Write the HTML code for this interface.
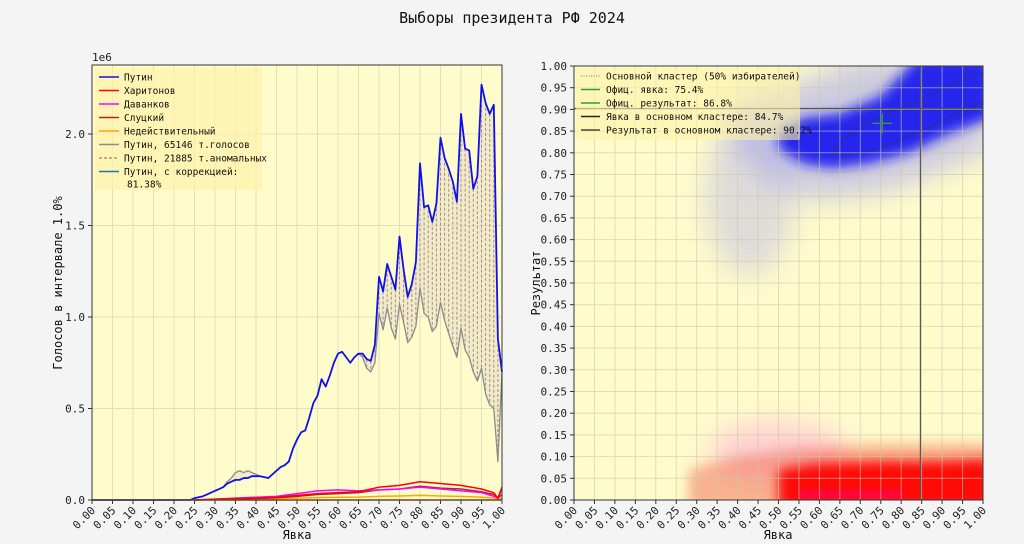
<!DOCTYPE html>
<html><head><meta charset="utf-8"><style>
body{margin:0;background:#f4f4f4;}
svg{display:block;font-family:"DejaVu Sans Mono","Liberation Mono",monospace;}
</style></head><body>
<svg id="root" width="1024" height="544" viewBox="0 0 1024 544">
<defs>
<filter id="blur6" filterUnits="userSpaceOnUse" x="0" y="0" width="1024" height="544"><feGaussianBlur stdDeviation="6"/></filter>
<filter id="blur12" filterUnits="userSpaceOnUse" x="0" y="0" width="1024" height="544"><feGaussianBlur stdDeviation="14"/></filter>
<filter id="blur3" filterUnits="userSpaceOnUse" x="0" y="0" width="1024" height="544"><feGaussianBlur stdDeviation="3"/></filter>
</defs>
<rect width="1024" height="544" fill="#f4f4f4"/>
<text x="512" y="23" text-anchor="middle" font-size="15" fill="#111">Выборы президента РФ 2024</text>
<g id="left"></g>
<g id="right"></g>
</svg>
<script>
// ---- left chart data (millions of votes per 1% turnout bin, index = turnout %) ----
const putinVotes = [0,0,0,0,0,0,0,0,0,0,0,0,0,0,0,0,0,0,0,0,0,0,0,0,0,
0.01,0.015,0.02,0.03,0.04, 0.05,0.06,0.07,0.09,0.10, 0.11,0.11,0.12,0.12,0.13,
0.13,0.13,0.125,0.12,0.14, 0.16,0.18,0.19,0.21,0.28, 0.33,0.37,0.38,0.45,0.53,
0.57,0.66,0.62,0.68,0.75, 0.80,0.81,0.78,0.75,0.78, 0.80,0.80,0.77,0.76,0.85,
1.22,1.14,1.29,1.22,1.15, 1.44,1.26,1.11,1.18,1.30, 1.84,1.60,1.61,1.52,1.62,
1.98,1.87,1.81,1.74,1.63, 2.11,1.92,1.91,1.70,1.77, 2.27,2.17,2.11,2.16,0.88, 0.70];
const putinNormal = [0,0,0,0,0,0,0,0,0,0,0,0,0,0,0,0,0,0,0,0,0,0,0,0,0,
0.01,0.015,0.02,0.03,0.04, 0.05,0.06,0.07,0.10,0.12, 0.15,0.16,0.15,0.16,0.15,
0.14,0.13,0.125,0.12,0.14, 0.16,0.18,0.19,0.21,0.28, 0.33,0.37,0.38,0.45,0.53,
0.57,0.66,0.62,0.68,0.75, 0.80,0.81,0.78,0.75,0.78, 0.80,0.78,0.72,0.70,0.75,
1.02,0.93,1.05,0.94,0.88, 1.07,0.97,0.86,0.89,0.95, 1.16,1.02,1.00,0.92,0.95,
1.08,0.98,0.91,0.84,0.78, 0.94,0.82,0.78,0.70,0.65, 0.72,0.58,0.52,0.50,0.21, 0.70];
const smallTurnout = [0.25,0.30,0.35,0.40,0.45,0.50,0.55,0.60,0.65,0.70,0.75,0.80,0.85,0.90,0.95,0.98,0.99,1.00];
const kharitonovVotes = [0,0.004,0.008,0.01,0.015,0.025,0.035,0.04,0.045,0.07,0.08,0.10,0.09,0.08,0.06,0.04,0.01,0.07];
const davankovVotes = [0,0.005,0.01,0.015,0.02,0.035,0.05,0.055,0.05,0.055,0.06,0.07,0.06,0.05,0.04,0.02,0.01,0.06];
const slutskyVotes = [0,0.003,0.006,0.008,0.012,0.02,0.03,0.035,0.04,0.055,0.06,0.075,0.065,0.06,0.045,0.03,0.01,0.03];
const invalidVotes = [0,0.002,0.004,0.005,0.007,0.01,0.013,0.015,0.016,0.02,0.022,0.025,0.022,0.02,0.015,0.01,0.005,0.01];
const leftYTicks = [0,0.5,1.0,1.5,2.0];
const leftYTickLabels = ["0.0","0.5","1.0","1.5","2.0"];
const xTickValues = [0,0.05,0.1,0.15,0.2,0.25,0.3,0.35,0.4,0.45,0.5,0.55,0.6,0.65,0.7,0.75,0.8,0.85,0.9,0.95,1.0];
const xTickLabels = ["0.00","0.05","0.10","0.15","0.20","0.25","0.30","0.35","0.40","0.45","0.50","0.55","0.60","0.65","0.70","0.75","0.80","0.85","0.90","0.95","1.00"];
const leftLegendLabels = ["Путин","Харитонов","Даванков","Слуцкий","Недействительный","Путин, 65146 т.голосов","Путин, 21885 т.аномальных","Путин, с коррекцией:"];
// ---- right chart data ----
const officialTurnout = 0.754, officialResult = 0.868;
const clusterTurnout = 0.847, clusterResult = 0.902;
const rightYTicks = [0,0.05,0.1,0.15,0.2,0.25,0.3,0.35,0.4,0.45,0.5,0.55,0.6,0.65,0.7,0.75,0.8,0.85,0.9,0.95,1.0];
const rightYTickLabels = ["0.00","0.05","0.10","0.15","0.20","0.25","0.30","0.35","0.40","0.45","0.50","0.55","0.60","0.65","0.70","0.75","0.80","0.85","0.90","0.95","1.00"];
const blueCoreT = [0.50,0.56,0.65,0.75,0.84,1.02,1.02,0.92,0.82,0.72,0.63,0.56,0.50];
const blueCoreR = [0.85,0.88,0.89,0.93,1.02,1.02,0.88,0.845,0.80,0.775,0.765,0.775,0.81];
const blueHaloT = [0.38,0.50,0.60,0.70,0.80,1.02,1.02,0.90,0.80,0.70,0.60,0.50,0.40];
const blueHaloR = [0.92,0.95,0.98,1.02,1.02,1.02,0.80,0.76,0.72,0.70,0.69,0.72,0.80];
const redCoreT = [0.50,0.60,0.75,0.90,1.02,1.02,0.50];
const redCoreR = [0.07,0.085,0.09,0.09,0.095,-0.02,-0.02];
const redHaloT = [0.28,0.40,0.55,0.75,0.90,1.02,1.02,0.28];
const redHaloR = [0.07,0.10,0.12,0.13,0.13,0.13,-0.02,-0.02];
const clusterTopT = [0.63,0.68,0.74,0.80,0.86,0.92,0.97,1.0];
const clusterTopR = [0.80,0.85,0.88,0.905,0.93,0.955,0.975,0.985];
const clusterBotT = [1.0,0.95,0.88,0.82,0.76,0.70,0.66,0.63];
const clusterBotR = [0.92,0.895,0.865,0.84,0.815,0.80,0.795,0.80];
const rightLegendLabels = ["Основной кластер (50% избирателей)","Офиц. явка: 75.4%","Офиц. результат: 86.8%","Явка в основном кластере: 84.7%","Результат в основном кластере: 90.2%"];

const NS="http://www.w3.org/2000/svg";
function mk(parent,tag,attrs,text){const e=document.createElementNS(NS,tag);for(const k in attrs)e.setAttribute(k,attrs[k]);if(text!==undefined)e.textContent=text;parent.appendChild(e);return e;}

// ---------- LEFT ----------
const L=document.getElementById('left');
const lx0=92,lx1=502,ly0=500,ly1=65;
const lxs=t=>lx0+t*(lx1-lx0);
const lys=v=>ly0-v*183;
let e=mk(L,'rect',{x:lx0,y:ly1,width:lx1-lx0,height:ly0-ly1,fill:'#fffccc'});


xTickValues.forEach((t,i)=>{
  let g=mk(L,'line',{x1:lxs(t),x2:lxs(t),y1:ly1,y2:ly0,stroke:'#e2dfbf','stroke-width':1});
  
  
  mk(L,'line',{x1:lxs(t),x2:lxs(t),y1:ly0,y2:ly0+4,stroke:'#333'});
  let lb=mk(L,'text',{x:lxs(t)+4,y:ly0+11,'font-size':11,'text-anchor':'end',fill:'#222',transform:`rotate(-45 ${lxs(t)+4} ${ly0+11})`},xTickLabels[i]);
  
  
});
leftYTicks.forEach((v,i)=>{
  let g=mk(L,'line',{x1:lx0,x2:lx1,y1:lys(v),y2:lys(v),stroke:'#e2dfbf'});
  
  
  mk(L,'line',{x1:lx0-4,x2:lx0,y1:lys(v),y2:lys(v),stroke:'#333'});
  let lb=mk(L,'text',{x:lx0-7,y:lys(v)+4,'font-size':11,'text-anchor':'end',fill:'#222'},leftYTickLabels[i]);
  
  
});
let fillPts=[];
putinVotes.forEach((v,i)=>fillPts.push(lxs(i/100)+','+lys(v)));
for(let i=putinNormal.length-1;i>=0;i--)fillPts.push(lxs(i/100)+','+lys(putinNormal[i]));
e=mk(L,'polygon',{points:fillPts.join(' '),fill:'#e6dcc4','fill-opacity':0.55});


putinVotes.forEach((v,i)=>{
  if(v-putinNormal[i]>0.02){
    let d=mk(L,'line',{x1:lxs(i/100),x2:lxs(i/100),y1:lys(v),y2:lys(putinNormal[i]),stroke:'#a88a8a','stroke-width':1,'stroke-dasharray':'3,2'});
    
    
  }
});
function series(vals,xs,color,w,name){
  const pts=vals.map((v,i)=>lxs(xs?xs[i]:i/100)+','+lys(v)).join(' ');
  const p=mk(L,'polyline',{points:pts,fill:'none',stroke:color,'stroke-width':w,'stroke-linejoin':'round'});
  
  
}
series(invalidVotes,smallTurnout,'#ffa500',1.5,'invalid-line');
series(slutskyVotes,smallTurnout,'#a52a2a',1.5,'slutsky-line');
series(davankovVotes,smallTurnout,'#ff00ff',1.5,'davankov-line');
series(kharitonovVotes,smallTurnout,'#ff0000',1.5,'kharitonov-line');
series(putinNormal,null,'#8c8c8c',1.3,'putin-normal-line');
series(putinVotes,null,'#1010ee',1.8,'putin-line');
mk(L,'line',{x1:lx0,x2:lx1,y1:ly0,y2:ly0,stroke:'#cc7700','stroke-width':1.5});
e=mk(L,'rect',{x:lx0,y:ly1,width:lx1-lx0,height:ly0-ly1,fill:'none',stroke:'#333','stroke-width':1});


e=mk(L,'text',{x:lx0,y:ly1-4,'font-size':11,fill:'#222'},'1e6');


e=mk(L,'text',{x:297,y:539,'font-size':12,'text-anchor':'middle',fill:'#111'},'Явка');


e=mk(L,'text',{x:62,y:283,'font-size':12,'text-anchor':'middle',fill:'#111',transform:'rotate(-90 62 283)'},'Голосов в интервале 1.0%');


const LG=mk(L,'g',{});


mk(LG,'rect',{x:95,y:68,width:167,height:122,fill:'#fdf1a8','fill-opacity':0.7,rx:2});
const legColors=['#1010ee','#ff0000','#ff00ff','#a52a2a','#ffa500','#8c8c8c','#b09090','#1f77b4'];
leftLegendLabels.forEach((lab,i)=>{
  const y=77+i*13.5;
  mk(LG,'line',{x1:99,x2:119,y1:y,y2:y,stroke:legColors[i],'stroke-width':1.6,'stroke-dasharray':i==6?'3,2':'none'});
  let t=mk(LG,'text',{x:124,y:y+3.5,'font-size':9.5,fill:'#111'},lab);
  
  
});
mk(LG,'text',{x:127,y:77+8*13.5+3.5-1,'font-size':9.5,fill:'#111'},'81.38%');

// ---------- RIGHT ----------
const R=document.getElementById('right');
const rx0=574,rx1=983,ry0=500,ry1=66;
const rxs=t=>rx0+t*(rx1-rx0);
const rys=v=>ry0-v*(ry0-ry1);
const poly=(T,V)=>T.map((t,i)=>rxs(t)+','+rys(V[i])).join(' ');
e=mk(R,'rect',{x:rx0,y:ry1,width:rx1-rx0,height:ry0-ry1,fill:'#fffccc'});


const clip=mk(R,'clipPath',{id:'rclip'});
mk(clip,'rect',{x:rx0,y:ry1,width:rx1-rx0,height:ry0-ry1});
const C=mk(R,'g',{'clip-path':'url(#rclip)'});
e=mk(C,'ellipse',{cx:rxs(0.43),cy:rys(0.70),rx:45,ry:80,fill:'#a0a0f0','fill-opacity':0.35,filter:'url(#blur12)'});


e=mk(C,'polygon',{points:poly(blueHaloT,blueHaloR),fill:'#9a9af5','fill-opacity':0.5,filter:'url(#blur12)'});


e=mk(C,'polygon',{points:poly(blueCoreT,blueCoreR),fill:'#1818ee','fill-opacity':0.92,filter:'url(#blur6)'});


e=mk(C,'ellipse',{cx:rxs(0.5),cy:rys(0.11),rx:70,ry:30,fill:'#ff77dd','fill-opacity':0.35,filter:'url(#blur12)'});


e=mk(C,'polygon',{points:poly(redHaloT,redHaloR),fill:'#f05a40','fill-opacity':0.45,filter:'url(#blur6)'});


e=mk(C,'polygon',{points:poly(redCoreT,redCoreR),fill:'#ff0000','fill-opacity':0.95,filter:'url(#blur6)'});


e=mk(C,'rect',{x:rxs(0.55),y:rys(0.02),width:rxs(0.8)-rxs(0.55),height:6,fill:'#ff00aa','fill-opacity':0.5,filter:'url(#blur3)'});
xTickValues.forEach((t,i)=>{
  let g=mk(R,'line',{x1:rxs(t),x2:rxs(t),y1:ry1,y2:ry0,stroke:'#ccc9a8','stroke-opacity':0.6});
  
  
  mk(R,'line',{x1:rxs(t),x2:rxs(t),y1:ry0,y2:ry0+4,stroke:'#333'});
  let lb=mk(R,'text',{x:rxs(t)+4,y:ry0+11,'font-size':11,'text-anchor':'end',fill:'#222',transform:`rotate(-45 ${rxs(t)+4} ${ry0+11})`},xTickLabels[i]);
  
  
});
rightYTicks.forEach((v,i)=>{
  let g=mk(R,'line',{x1:rx0,x2:rx1,y1:rys(v),y2:rys(v),stroke:'#ccc9a8','stroke-opacity':0.6});
  
  
  mk(R,'line',{x1:rx0-4,x2:rx0,y1:rys(v),y2:rys(v),stroke:'#333'});
  let lb=mk(R,'text',{x:rx0-7,y:rys(v)+4,'font-size':11,'text-anchor':'end',fill:'#222'},rightYTickLabels[i]);
  
  
});
const contD='M'+clusterTopT.map((t,i)=>rxs(t)+' '+rys(clusterTopR[i])).join(' L')+' M'+clusterBotT.map((t,i)=>rxs(t)+' '+rys(clusterBotR[i])).join(' L');
e=mk(C,'path',{d:contD,fill:'none',stroke:'#333','stroke-width':1.2,'stroke-dasharray':'1.5,2'});


e=mk(R,'line',{x1:rxs(clusterTurnout),x2:rxs(clusterTurnout),y1:ry1,y2:ry0,stroke:'#555','stroke-width':1.2});


e=mk(R,'line',{x1:rx0,x2:rx1,y1:rys(clusterResult),y2:rys(clusterResult),stroke:'#555','stroke-width':1.2});


e=mk(R,'line',{x1:rxs(officialTurnout)-10,x2:rxs(officialTurnout)+10,y1:rys(officialResult),y2:rys(officialResult),stroke:'#2ca02c','stroke-width':1.3});


e=mk(R,'line',{x1:rxs(officialTurnout),x2:rxs(officialTurnout),y1:rys(officialResult)-10,y2:rys(officialResult)+10,stroke:'#2ca02c','stroke-width':1.3});


e=mk(R,'rect',{x:rx0,y:ry1,width:rx1-rx0,height:ry0-ry1,fill:'none',stroke:'#333'});


const RG=mk(R,'g',{});


mk(RG,'rect',{x:576,y:68,width:224,height:72,fill:'#fdf1a8','fill-opacity':0.6,rx:2});
const rlc=['#777','#2ca02c','#2ca02c','#222','#444'];
rightLegendLabels.forEach((lab,i)=>{
  const y=76+i*13.5;
  mk(RG,'line',{x1:581,x2:600,y1:y,y2:y,stroke:rlc[i],'stroke-width':i==0?1:1.5,'stroke-dasharray':i==0?'1,1.5':'none'});
  let t=mk(RG,'text',{x:606,y:y+3.5,'font-size':9.5,fill:'#111'},lab);
  
  
});
e=mk(R,'text',{x:778,y:539,'font-size':12,'text-anchor':'middle',fill:'#111'},'Явка');


e=mk(R,'text',{x:540,y:283,'font-size':12,'text-anchor':'middle',fill:'#111',transform:'rotate(-90 540 283)'},'Результат');


</script>
</body></html>
